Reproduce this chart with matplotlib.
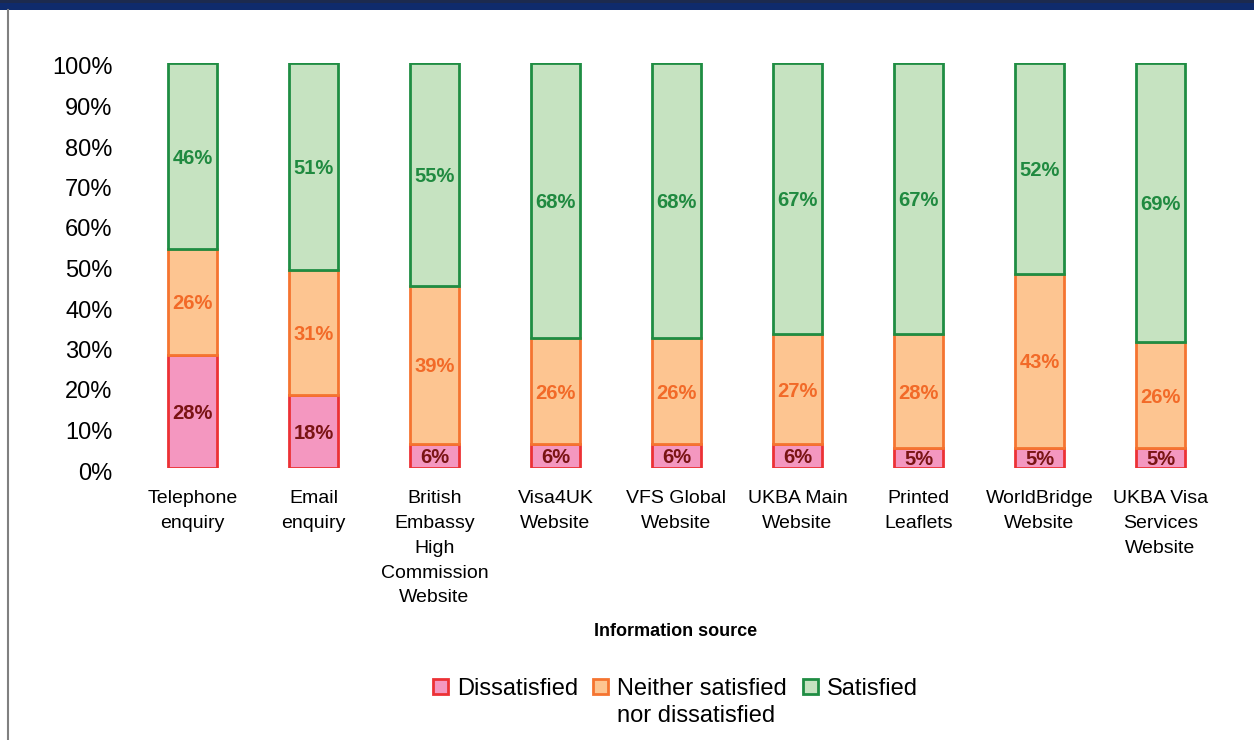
import numpy as np
import matplotlib
matplotlib.use("Agg")
import matplotlib.pyplot as plt
import matplotlib.transforms as mtransforms
from matplotlib.patches import Rectangle
from matplotlib.lines import Line2D

plt.rcParams["font.family"] = ["Liberation Sans", "DejaVu Sans"]

# Data
sources = ["Telephone\nenquiry", "Email\nenquiry", "British\nEmbassy\nHigh\nCommission\nWebsite",
           "Visa4UK\nWebsite", "VFS Global\nWebsite", "UKBA Main\nWebsite", "Printed\nLeaflets",
           "WorldBridge\nWebsite", "UKBA Visa\nServices\nWebsite"]
dissatisfied = [28, 18, 6, 6, 6, 6, 5, 5, 5]
neither = [26, 31, 39, 26, 26, 27, 28, 43, 26]
satisfied = [46, 51, 55, 68, 68, 67, 67, 52, 69]

series_names = ["Dissatisfied", "Neither satisfied\nnor dissatisfied", "Satisfied"]
fills = ["#f497c0", "#fdc591", "#c6e3c1"]
edges = ["#ec3135", "#f57430", "#1f8d43"]
text_colors = ["#7a1414", "#f26a28", "#208a40"]

W, H = 1254, 740
fig = plt.figure(figsize=(W / 100, H / 100), dpi=100)
ax = fig.add_axes([132 / W, (H - 468) / H, (1221 - 132) / W, 405 / H])

x = np.arange(len(sources))
bottom = np.zeros(len(sources))
for vals, fc, ec, tc in zip([dissatisfied, neither, satisfied], fills, edges, text_colors):
    vals = np.array(vals, dtype=float)
    ax.bar(x, vals, bottom=bottom, width=0.41, color=fc, edgecolor=ec, linewidth=2)
    for xi, b, v in zip(x, bottom, vals):
        ax.text(xi, b + v / 2 - 0.5, f"{int(v)}%", ha="center", va="center",
                fontsize=14.5, fontweight="bold", color=tc)
    bottom += vals

ax.set_xlim(-0.5, len(sources) - 0.5)
ax.set_ylim(0, 100)
ax.set_yticks(range(0, 101, 10))
ax.set_yticklabels([f"{v}%" for v in range(0, 101, 10)], fontsize=17)
ax.set_xticks(x)
ax.set_xticklabels(sources, fontsize=14, linespacing=1.6)
ax.tick_params(axis="both", length=0)
ax.tick_params(axis="y", pad=14)
ax.tick_params(axis="x", pad=16)
for s in ax.spines.values():
    s.set_visible(False)
shift = mtransforms.ScaledTranslation(0, -3 / 100, fig.dpi_scale_trans)
for lab in ax.get_yticklabels():
    lab.set_transform(lab.get_transform() + shift)

fig.text(676 / W, 1 - 632 / H, "Information source", ha="center", va="center",
         fontsize=13, fontweight="bold")

# legend drawn by hand: square + label, second line under the text
legend_x = [433, 593, 803]
for lx, name, fc, ec in zip(legend_x, series_names, fills, edges):
    fig.patches.append(Rectangle((lx / W, 1 - 694 / H), 15 / W, 15 / H, transform=fig.transFigure,
                                 facecolor=fc, edgecolor=ec, linewidth=2))
    fig.text((lx + 24) / W, 1 - 678 / H, name, ha="left", va="top", fontsize=17,
             linespacing=1.32)

# top band and left border
fig.patches.append(Rectangle((0, 1 - 10 / H), 1, 10 / H, transform=fig.transFigure,
                             facecolor="#0f2b6c", edgecolor="none"))
fig.patches.append(Rectangle((0, 1 - 3 / H), 1, 3 / H, transform=fig.transFigure,
                             facecolor="#1c2a4e", edgecolor="none"))
fig.lines.append(Line2D([7.5 / W, 7.5 / W], [0, 1 - 10 / H], transform=fig.transFigure,
                        color="#808080", linewidth=1.5))

fig.savefig("out.png", dpi=100)
